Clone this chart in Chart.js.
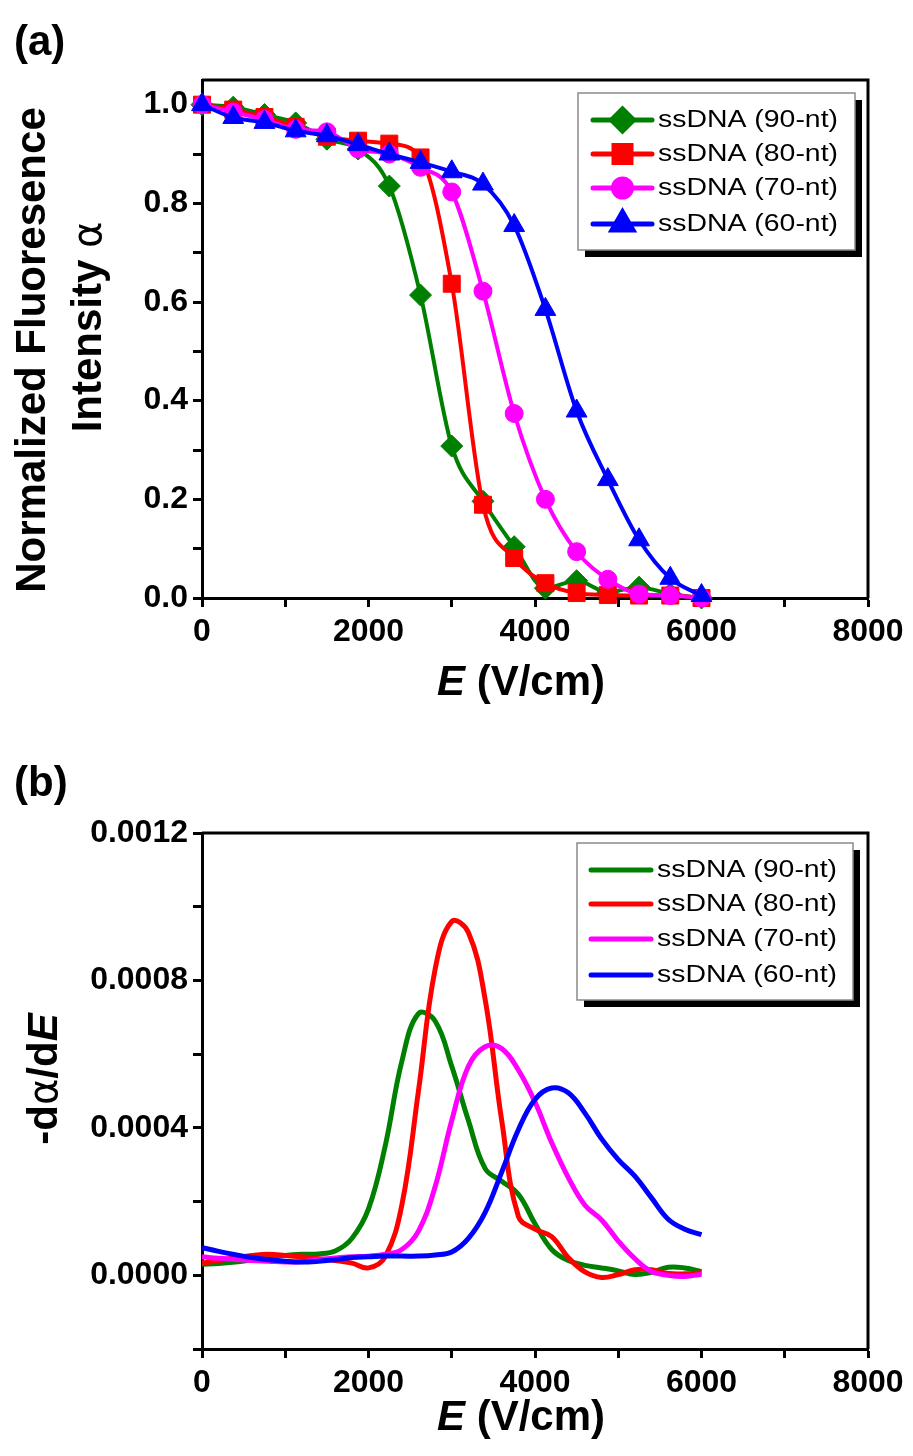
<!DOCTYPE html>
<html><head><meta charset="utf-8">
<script src="https://cdn.jsdelivr.net/npm/chart.js@4.4.1/dist/chart.umd.min.js"></script>
<style>
body{margin:0;background:#fff;width:913px;height:1456px;overflow:hidden;position:relative}
.wrap{position:absolute;left:0;width:913px;height:728px}
canvas{display:block}
</style></head><body>
<div class="wrap" style="top:0"><canvas id="ca" width="913" height="728"></canvas></div>
<div class="wrap" style="top:728px"><canvas id="cb" width="913" height="728"></canvas></div>
<script>
// ---- data ----
const seriesLabels = ['ssDNA (90-nt)', 'ssDNA (80-nt)', 'ssDNA (70-nt)', 'ssDNA (60-nt)'];
const seriesColors = ['#008000', '#FF0000', '#FF00FF', '#0000FF'];
const seriesMarkers = ['rectRot', 'rect', 'circle', 'triangle'];

// (a) normalized fluorescence intensity vs E
const xA = [0, 375, 750, 1125, 1500, 1875, 2250, 2625, 3000, 3375, 3750, 4125, 4500, 4875, 5250, 5625, 6000];
const a90 = [1.0, 0.995, 0.98, 0.963, 0.93, 0.91, 0.835, 0.614, 0.308, 0.196, 0.104, 0.02, 0.035, 0.012, 0.022, 0.008, 0.0];
const a80 = [1.0, 0.99, 0.975, 0.955, 0.935, 0.927, 0.921, 0.893, 0.637, 0.189, 0.081, 0.03, 0.01, 0.006, 0.005, 0.005, 0.0];
const a70 = [1.0, 0.985, 0.97, 0.95, 0.945, 0.91, 0.9, 0.873, 0.823, 0.622, 0.374, 0.2, 0.094, 0.038, 0.008, 0.005, 0.0];
const a60 = [1.0, 0.974, 0.964, 0.947, 0.937, 0.919, 0.9, 0.883, 0.864, 0.839, 0.755, 0.585, 0.379, 0.24, 0.118, 0.04, 0.005];

// (b) -d alpha / dE
const xB = [0, 200, 400, 600, 800, 1000, 1200, 1400, 1600, 1800, 2000, 2200, 2400, 2600, 2800, 3000,
            3200, 3400, 3600, 3800, 4000, 4200, 4400, 4600, 4800, 5000, 5200, 5400, 5600, 5800, 6000];
const b90 = [0.00003, 0.000032, 0.000036, 0.000042, 0.000048, 0.000054, 0.000057, 0.000058, 0.000066, 0.0001,
             0.00018, 0.00035, 0.00058, 0.00071, 0.00069, 0.000567, 0.00042, 0.00029, 0.000255, 0.00022,
             0.00014, 0.00007, 0.00004, 0.000027, 0.00002, 0.000012, 0.000002, 0.000008, 0.000022, 0.00002, 0.00001];
const b80 = [0.000033, 0.00004, 0.000048, 0.000054, 0.000057, 0.000054, 0.00005, 0.000045, 0.00004, 0.000033,
             0.00002, 0.00005, 0.00019, 0.0005, 0.00083, 0.00096, 0.00093, 0.00075, 0.00042, 0.00016,
             0.000125, 0.000105, 0.000048, 0.000009, -0.000006, 0.000002, 0.000015, 0.000015, 0.000005, 0.000004, 0.000007];
const b70 = [0.00005, 0.000046, 0.000043, 0.00004, 0.000038, 0.000036, 0.000037, 0.000043, 0.000047, 0.00005,
             0.000052, 0.000057, 0.00007, 0.00012, 0.00024, 0.00042, 0.000567, 0.00062, 0.000615, 0.000557,
             0.00047, 0.00036, 0.000265, 0.00019, 0.00015, 0.000093, 0.000045, 0.00001, 0.0, -0.000003, 0.000003];
const b60 = [0.000075, 0.000065, 0.000056, 0.000048, 0.000042, 0.000038, 0.000036, 0.000038, 0.000042, 0.000048,
             0.00005, 0.000052, 0.000052, 0.000052, 0.000055, 0.000063, 0.0001, 0.00017, 0.00028, 0.000395,
             0.000477, 0.000508, 0.000495, 0.00044, 0.00037, 0.000314, 0.000269, 0.00021, 0.000152, 0.000125, 0.00011];

const xTickStep = 1000, xLabelEvery = 2000;
const aYStep = 0.1, bYStep = 0.0002;

// ---- helpers ----
const FONT = '"Liberation Sans", Arial, sans-serif';
const pts = (xs, ys) => xs.map((x, i) => ({x: x, y: ys[i]}));

function drawSegs(ctx, segs, cx, baseY) {
  let total = 0;
  segs.forEach(s => { ctx.font = s.f; s.w = ctx.measureText(s.t).width; total += s.w; });
  let x = cx - total / 2;
  ctx.textAlign = 'left'; ctx.textBaseline = 'alphabetic'; ctx.fillStyle = '#000';
  segs.forEach(s => { ctx.font = s.f; ctx.fillText(s.t, x, baseY); x += s.w; });
}
const B = 'bold 42px ' + FONT, BI = 'italic bold 42px ' + FONT, GR = '40px "DejaVu Sans", sans-serif';

const deco = {
  id: 'deco',
  beforeDatasetsDraw(chart) {
    const a = chart.chartArea, ctx = chart.ctx;
    ctx.save(); ctx.strokeStyle = '#000'; ctx.lineWidth = 3;
    ctx.beginPath();
    ctx.moveTo(a.left, a.top); ctx.lineTo(a.right, a.top); ctx.lineTo(a.right, a.bottom);
    ctx.stroke(); ctx.restore();
  },
  afterDraw(chart, args, o) {
    const ctx = chart.ctx;
    ctx.save();
    // panel label
    ctx.fillStyle = '#000'; ctx.font = B; ctx.textAlign = 'left'; ctx.textBaseline = 'alphabetic';
    ctx.fillText(o.panel, 14, o.panelY);
    // x title
    drawSegs(ctx, [{t: 'E', f: BI}, {t: ' (V/cm)', f: B}], o.xTitleX, o.xTitleY);
    // y title lines (rotated)
    o.yLines.forEach(l => {
      ctx.save(); ctx.translate(l.x, l.cy); ctx.rotate(-Math.PI / 2);
      drawSegs(ctx, l.segs, 0, 0);
      ctx.restore();
    });
    // legend
    const L = o.legend;
    ctx.fillStyle = '#000'; ctx.fillRect(L.x + 7, L.y + 7, L.w, L.h);
    ctx.fillStyle = '#fff'; ctx.fillRect(L.x, L.y, L.w, L.h);
    ctx.strokeStyle = '#8a8a8a'; ctx.lineWidth = 1.5; ctx.strokeRect(L.x, L.y, L.w, L.h);
    chart.data.datasets.forEach((ds, i) => {
      const y = L.rows[i];
      ctx.strokeStyle = ds.borderColor; ctx.lineWidth = 5; ctx.lineCap = 'round';
      ctx.beginPath(); ctx.moveTo(L.lx1, y); ctx.lineTo(L.lx2, y); ctx.stroke();
      if (L.markers) {
        ctx.fillStyle = ds.borderColor; ctx.strokeStyle = ds.borderColor;
        Chart.helpers.drawPoint(ctx, {pointStyle: ds.pointStyle, radius: ds.pointRadius, rotation: 0, borderWidth: 1}, (L.lx1 + L.lx2) / 2, y);
      }
      ctx.fillStyle = '#000'; ctx.font = L.font; ctx.textAlign = 'left'; ctx.textBaseline = 'middle';
      const w = ctx.measureText(ds.label).width;
      ctx.save(); ctx.translate(L.tx, y + 1); ctx.scale(L.tw / w, 1);
      ctx.fillText(ds.label, 0, 0); ctx.restore();
    });
    ctx.restore();
  }
};

function xScale(h) {
  return {
    type: 'linear', min: 0, max: 8000,
    ticks: {stepSize: xTickStep, autoSkip: false, maxRotation: 0, color: '#000', padding: 6,
            font: {family: FONT, size: 32, weight: 'bold'},
            callback: v => (v % xLabelEvery === 0 ? String(v) : '')},
    grid: {drawOnChartArea: false, drawTicks: true, tickLength: 9, tickWidth: 3, tickColor: '#000'},
    border: {display: true, color: '#000', width: 3},
    afterFit: s => { s.height = h; }
  };
}
function yScale(min, max, step, fmt) {
  return {
    type: 'linear', min: min, max: max,
    ticks: {stepSize: step, includeBounds: false, autoSkip: false, color: '#000', padding: 5,
            font: {family: FONT, size: 32, weight: 'bold'}, callback: fmt},
    grid: {drawOnChartArea: false, drawTicks: true, tickLength: 9, tickWidth: 3, tickColor: '#000'},
    border: {display: true, color: '#000', width: 3},
    afterFit: s => { s.width = 202; }
  };
}

// ---- chart (a) ----
const aSeries = [a90, a80, a70, a60];
const markerSize = [11, 12, 9, 12];
new Chart(document.getElementById('ca'), {
  type: 'line',
  data: {datasets: aSeries.map((ys, i) => ({
    label: seriesLabels[i], data: pts(xA, ys),
    borderColor: seriesColors[i], backgroundColor: seriesColors[i], borderWidth: 4,
    pointStyle: seriesMarkers[i], pointRadius: markerSize[i], pointBorderWidth: 1,
    pointBackgroundColor: seriesColors[i], pointBorderColor: seriesColors[i],
    cubicInterpolationMode: 'monotone', clip: false, order: 3 - i
  }))},
  options: {
    responsive: false, animation: false, devicePixelRatio: 1,
    layout: {padding: {top: 80, right: 45, left: 0, bottom: 0}},
    scales: {
      x: xScale(130),
      y: yScale(0, 1.05, aYStep, v => (Math.round(v * 10) % 2 === 0 ? v.toFixed(1) : ''))
    },
    plugins: {
      legend: {display: false}, tooltip: {enabled: false},
      deco: {
        panel: '(a)', panelY: 55, xTitleX: 521, xTitleY: 695,
        yLines: [
          {x: 45, cy: 350, segs: [{t: 'Normalized Fluoresence', f: B}]},
          {x: 101, cy: 327, segs: [{t: 'Intensity ', f: B}, {t: 'α', f: GR}]}
        ],
        legend: {x: 578, y: 93, w: 277, h: 157, rows: [120, 154, 188, 224], lx1: 593, lx2: 652,
                 tx: 658, tw: 180, font: '23px ' + FONT, markers: true}
      }
    }
  },
  plugins: [deco]
});

// ---- chart (b) ----
const bSeries = [b90, b80, b70, b60];
new Chart(document.getElementById('cb'), {
  type: 'line',
  data: {datasets: bSeries.map((ys, i) => ({
    label: seriesLabels[i], data: pts(xB, ys),
    borderColor: seriesColors[i], backgroundColor: seriesColors[i], borderWidth: 5,
    pointRadius: 0, tension: 0.4, order: 3 - i
  }))},
  options: {
    responsive: false, animation: false, devicePixelRatio: 1,
    layout: {padding: {top: 105, right: 45, left: 0, bottom: 0}},
    scales: {
      x: xScale(107),
      y: yScale(-0.0002, 0.0012, bYStep, v => (Math.round(v / 0.0002) % 2 === 0 ? v.toFixed(4) : ''))
    },
    plugins: {
      legend: {display: false}, tooltip: {enabled: false},
      deco: {
        panel: '(b)', panelY: 68, xTitleX: 521, xTitleY: 702,
        yLines: [
          {x: 57, cy: 351, segs: [{t: '-d', f: B}, {t: 'α', f: GR}, {t: '/d', f: B}, {t: 'E', f: BI}]}
        ],
        legend: {x: 577, y: 115, w: 276, h: 157, rows: [142, 176, 211, 247], lx1: 591, lx2: 651,
                 tx: 657, tw: 180, font: '23px ' + FONT, markers: false}
      }
    }
  },
  plugins: [deco]
});
</script>
</body></html>
